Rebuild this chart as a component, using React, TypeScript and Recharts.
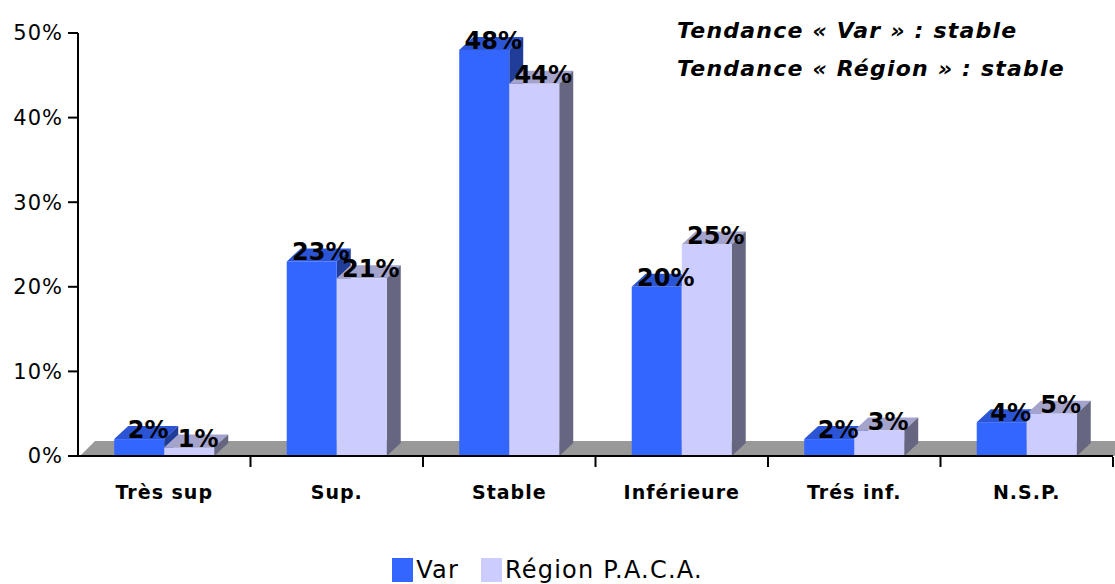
import { Bar, BarChart, XAxis, YAxis, Legend, LabelList, ReferenceArea } from "recharts";

const categories = ["Très sup", "Sup.", "Stable", "Inférieure", "Trés inf.", "N.S.P."];
const varValues = [2, 23, 48, 20, 2, 4];
const regionValues = [1, 21, 44, 25, 3, 5];
const yTicks = [0, 10, 20, 30, 40, 50];
const notes = ["Tendance « Var » : stable", "Tendance « Région » : stable"];

const data = categories.map((name, i) => ({
  name,
  var: varValues[i],
  region: regionValues[i],
}));

const FONT = '"Comic Sans MS", "DejaVu Sans", sans-serif';
const DX = 14;
const DY = 13;

const bar3d = (front: string, top: string, side: string) => (props: any) => {
  const { x, y, width, height } = props;
  if (!width || height == null) return null;
  return (
    <g>
      <polygon
        points={`${x},${y} ${x + DX},${y - DY} ${x + width + DX},${y - DY} ${x + width},${y}`}
        fill={top}
      />
      <polygon
        points={`${x + width},${y} ${x + width + DX},${y - DY} ${x + width + DX},${y + height - DY} ${x + width},${y + height}`}
        fill={side}
      />
      <rect x={x} y={y} width={width} height={height} fill={front} />
    </g>
  );
};

const Floor = (props: any) => {
  const { x, y, width, height } = props;
  const b = y + height;
  return (
    <polygon
      points={`${x + 2},${b} ${x + 2 + 15},${b - 15} ${x + width + 2},${b - 15} ${x + width + 2},${b}`}
      fill="#999999"
    />
  );
};

const PctLabel = (props: any) => {
  const { x, y, width, value } = props;
  return (
    <text
      x={x + width / 2 + 9}
      y={y - 1}
      textAnchor="middle"
      fontFamily={FONT}
      fontWeight="bold"
      fontSize={24}
      fill="#000"
    >
      {value}%
    </text>
  );
};

// category label + a tick mark on the right boundary of each band
const CatTick = ({ x, y, payload }: any) => {
  const edge = x + (payload.offset || 0);
  return (
    <g>
      <line x1={edge} y1={y - 1} x2={edge} y2={y + 9} stroke="#000" strokeWidth={2} />
      <text
        x={x}
        y={y + 41}
        textAnchor="middle"
        fontFamily={FONT}
        fontWeight="bold"
        fontSize={19}
        letterSpacing={1}
        fill="#000"
      >
        {payload.value}
      </text>
    </g>
  );
};

const LegendBox = () => (
  <div
    style={{
      display: "flex",
      justifyContent: "center",
      alignItems: "center",
      height: 28,
      fontFamily: FONT,
      fontSize: 24,
      letterSpacing: 1.2,
      color: "#000",
      paddingRight: 18,
    }}
  >
    <span style={{ width: 21, height: 24, background: "#3366FF", marginRight: 3 }} />
    <span style={{ marginRight: 22 }}>Var</span>
    <span style={{ width: 21, height: 24, background: "#CCCCFF", marginRight: 3 }} />
    <span>Région P.A.C.A.</span>
  </div>
);

export default function App() {
  return (
    <div style={{ position: "absolute", left: 0, top: 0, width: 1115, height: 584, background: "#fff" }}>
      <BarChart
        width={1115}
        height={584}
        data={data}
        margin={{ top: 33, right: 2, left: 0, bottom: 99 }}
        barCategoryGap="21%"
        barGap={0}
      >
        <XAxis
          dataKey="name"
          height={1}
          stroke="#000"
          strokeWidth={2}
          tickLine={false}
          tickSize={0}
          tick={<CatTick />}
          interval={0}
        />
        <YAxis
          width={78}
          domain={[0, 50]}
          ticks={yTicks}
          tickFormatter={(v) => `${v}%`}
          tickSize={10}
          tickMargin={5}
          stroke="#000"
          strokeWidth={2}
          tick={{ fill: "#000", fontSize: 21, fontFamily: FONT, letterSpacing: 1 }}
        />
        <ReferenceArea y1={0} y2={2} ifOverflow="visible" shape={<Floor />} />
        <Legend
          verticalAlign="bottom"
          height={28}
          content={<LegendBox />}
          wrapperStyle={{ bottom: 0 }}
        />
        <Bar
          dataKey="var"
          isAnimationActive={false}
          shape={bar3d("#3366FF", "#2B55D5", "#1F3D99")}
        >
          <LabelList dataKey="var" content={<PctLabel />} />
        </Bar>
        <Bar
          dataKey="region"
          isAnimationActive={false}
          shape={bar3d("#CCCCFF", "#A3A3CC", "#666680")}
        >
          <LabelList dataKey="region" content={<PctLabel />} />
        </Bar>
      </BarChart>
      <div
        style={{
          position: "absolute",
          left: 677,
          top: 12,
          fontFamily: FONT,
          fontWeight: "bold",
          fontStyle: "italic",
          fontSize: 22,
          letterSpacing: 1.2,
          lineHeight: "38px",
          color: "#000",
          whiteSpace: "nowrap",
        }}
      >
        {notes.map((n) => (
          <div key={n}>{n}</div>
        ))}
      </div>
    </div>
  );
}
